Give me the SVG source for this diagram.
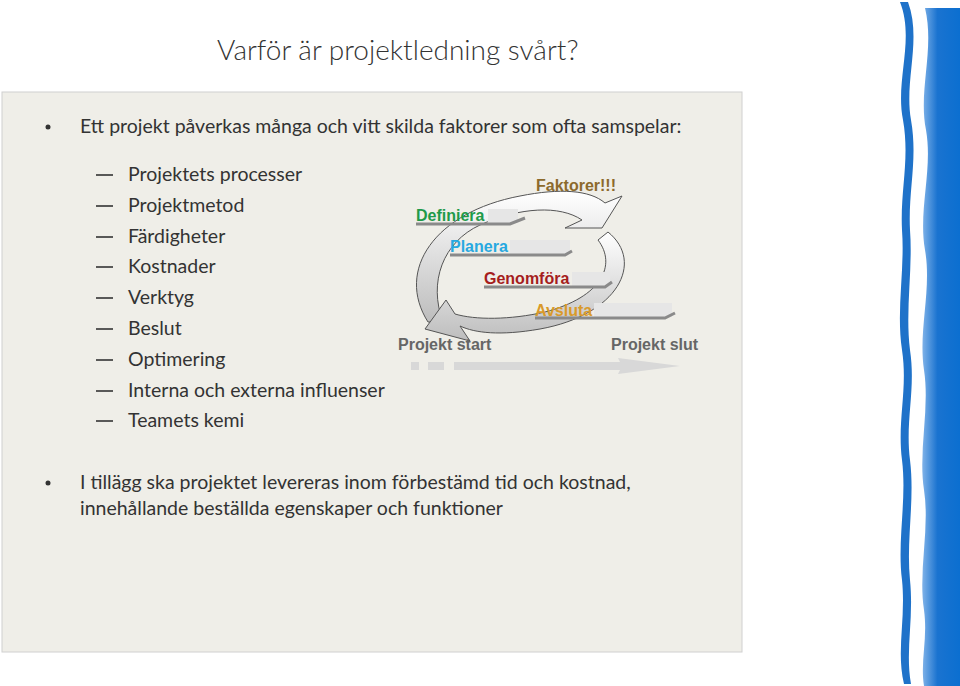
<svg xmlns="http://www.w3.org/2000/svg" width="960" height="686" viewBox="0 0 960 686">
<defs>
<style>
.t{font-family:Lato,"Open Sans",sans-serif;fill:#333;font-size:19.5px;font-weight:400}
.d{font-family:"Liberation Sans",Arial,sans-serif;font-weight:bold;font-size:16px}
.bar{fill:#e6e6e6}
.ul{stroke:#8a8a8a;stroke-width:3;fill:none}
</style>
<linearGradient id="ag" x1="0" y1="0" x2="0" y2="1"><stop offset="0" stop-color="#ffffff"/><stop offset="1" stop-color="#bdbdbd"/></linearGradient>
<linearGradient id="bw" x1="0" y1="0" x2="1" y2="0"><stop offset="0" stop-color="#7fb2e8"/><stop offset="0.4" stop-color="#1a73d0"/><stop offset="1" stop-color="#0b6fd0"/></linearGradient>
</defs>
<rect width="960" height="686" fill="#fff"/>
<rect x="2" y="92" width="740" height="560" fill="#efeee8" stroke="#d0d0d0"/>
<g id="wave">
<path d="M900,2 C915,40 895,80 903,120 C910,160 900,190 902,230 C905,270 896,310 902,350 C908,390 897,420 902,460 C907,500 897,540 902,580 C906,620 896,650 904,684 L911,684 C905,650 914,620 910,580 C906,540 915,500 910,460 C905,420 916,390 910,350 C905,310 913,270 910,230 C908,190 918,160 911,120 C904,80 922,40 908,2 Z" fill="#1f72c9"/>
<path d="M925,8 C935,50 918,90 926,130 C933,170 918,210 925,250 C932,290 918,330 924,370 C930,410 918,450 924,490 C930,530 918,570 924,610 C928,640 920,660 924,686 L960,686 L960,8 Z" fill="url(#bw)"/>
</g>
<text class="t" x="217" y="60" style="font-size:28px;font-weight:300">Varför är projektledning svårt?</text>
<g id="list">
<circle cx="48" cy="127" r="2.5" fill="#333"/>
<text class="t" x="80" y="133">Ett projekt påverkas många och vitt skilda faktorer som ofta samspelar:</text>
<g stroke="#333" stroke-width="1.6">
<line x1="96" y1="175" x2="113" y2="175"/><line x1="96" y1="206" x2="113" y2="206"/><line x1="96" y1="237" x2="113" y2="237"/><line x1="96" y1="267" x2="113" y2="267"/><line x1="96" y1="298" x2="113" y2="298"/><line x1="96" y1="329" x2="113" y2="329"/><line x1="96" y1="360" x2="113" y2="360"/><line x1="96" y1="391" x2="113" y2="391"/><line x1="96" y1="421" x2="113" y2="421"/>
</g>
<text class="t" x="128" y="181">Projektets processer</text>
<text class="t" x="128" y="212">Projektmetod</text>
<text class="t" x="128" y="243">Färdigheter</text>
<text class="t" x="128" y="273">Kostnader</text>
<text class="t" x="128" y="304">Verktyg</text>
<text class="t" x="128" y="335">Beslut</text>
<text class="t" x="128" y="366">Optimering</text>
<text class="t" x="128" y="397">Interna och externa influenser</text>
<text class="t" x="128" y="427">Teamets kemi</text>
<circle cx="48" cy="483" r="2.5" fill="#333"/>
<text class="t" x="80" y="489">I tillägg ska projektet levereras inom förbestämd tid och kostnad,</text>
<text class="t" x="80" y="515">innehållande beställda egenskaper och funktioner</text>
</g>
<g id="cycle">
<path d="M428,322 C395,270 435,212 520,196 C560,188 590,190 605,203 L622,196 L602,228 L565,228 L582,220 C560,205 520,207 480,225 C443,242 428,282 443,322 Z" fill="url(#ag)" stroke="#555" stroke-width="1"/>
<path d="M608,232 C645,262 618,315 540,329 C500,336 475,333 460,326 L470,341 L425,329 L446,300 L455,314 C475,320 510,320 545,312 C602,297 617,265 598,240 Z" fill="url(#ag)" stroke="#555" stroke-width="1"/>
</g>
<g id="labels">
<rect x="488" y="209" width="30" height="14" class="bar"/>
<path class="ul" d="M416,224 L510,224 L525,218"/>
<text class="d" x="416" y="221" fill="#1f9a4a">Definiera</text>
<rect x="510" y="240" width="60" height="14" class="bar"/>
<path class="ul" d="M450,255 L565,255 L572,251"/>
<text class="d" x="450" y="252" fill="#28a9e0">Planera</text>
<rect x="572" y="272" width="38" height="14" class="bar"/>
<path class="ul" d="M484,287 L605,287 L612,282"/>
<text class="d" x="484" y="284" fill="#a51d1d">Genomföra</text>
<rect x="594" y="303" width="78" height="14" class="bar"/>
<path class="ul" d="M535,318 L665,318 L675,313"/>
<text class="d" x="535" y="316" fill="#d99a2a">Avsluta</text>
<text class="d" x="536" y="191" fill="#8c6a2c">Faktorer!!!</text>
<text class="d" x="398" y="350" fill="#666">Projekt start</text>
<text class="d" x="611" y="350" fill="#666">Projekt slut</text>
</g>
<g id="timeline" fill="#d8d8d8">
<rect x="411" y="362" width="8" height="8"/><rect x="428" y="362" width="16" height="8"/>
<path d="M454,362 L620,362 L618,358 L680,366 L618,374 L620,370 L454,370 Z"/>
</g>
</svg>
